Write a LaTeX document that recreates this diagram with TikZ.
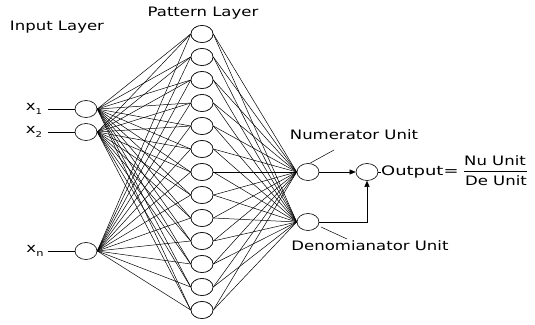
\documentclass[tikz,border=0pt]{standalone}
\usepackage{graphicx}
\usepackage{fontspec}
\setmainfont{DejaVu Sans}
\usetikzlibrary{shapes.geometric,arrows.meta}

% horizontally widened label text
\newcommand\widetxt[1]{\scalebox{1.27}[1]{#1}}

\tikzset{
  unit/.style={ellipse, draw, line width=0.6pt, minimum width=22pt, minimum height=17pt, inner sep=0pt, fill=white},
  lbl/.style={font=\fontsize{13}{15}\selectfont, inner sep=0pt},
  wire/.style={line width=0.5pt},
}

\begin{document}
\begin{tikzpicture}[x=1pt, y=-1pt]
\useasboundingbox (0,0) rectangle (535,324);

% layer titles
\node[lbl] (tin) at (57,27) {\widetxt{Input Layer}};
\node[lbl] (tpat) at (203,13) {\widetxt{Pattern Layer}};

% input units
\node[unit] (i1) at (86,109) {};
\node[unit] (i2) at (86,132) {};
\node[unit] (in) at (86,251) {};

% input signals
\coordinate (s1) at (48,109);
\coordinate (s2) at (48,132);
\coordinate (sn) at (48,251);
\node[lbl] (x1) at (34,109) {\widetxt{x\raisebox{-4pt}{\fontsize{8}{9}\selectfont 1}}};
\node[lbl] (x2) at (34,132) {\widetxt{x\raisebox{-4pt}{\fontsize{8}{9}\selectfont 2}}};
\node[lbl] (xn) at (35,251) {\widetxt{x\raisebox{-4pt}{\fontsize{9}{9}\selectfont n}}};
\draw[wire] (s1) -- (i1.west);
\draw[wire] (s2) -- (i2.west);
\draw[wire] (sn) -- (in.west);

% summation units
\node[unit] (num) at (308,172) {};
\node[unit] (den) at (308,222) {};
\node[unit] (out) at (367,172) {};

% pattern units with all their connections
\foreach \k in {0,...,12} {
  \node[unit] (p\k) at (202,{34+23*\k}) {};
  \foreach \s in {i1,i2,in} {
    \draw[wire] (\s.east) -- (p\k.west);
  }
  \draw[wire] (p\k.east) -- (num.west);
  \draw[wire] (p\k.east) -- (den.west);
}
% redraw pattern units on top of the wires
\foreach \k in {0,...,12} {
  \node[unit] at (202,{34+23*\k}) {};
}

% summation to output
\draw[wire, -{Triangle[length=6pt,width=5pt]}] (num.east) -- (out.west);
\draw[wire, -{Triangle[length=6pt,width=5pt]}] (den.east) -| (out.south);

% unit labels with leaders
\node[lbl] (lnum) at (354,135) {\widetxt{Numerator Unit}};
\coordinate (cnum) at (334,150);
\draw[wire] (num.north) ++(2,0) -- (cnum);
\node[lbl] (lden) at (370,246) {\widetxt{Denomianator Unit}};
\coordinate (cden) at (347,239);
\draw[wire] (321,227) -- (cden);

% output expression
\node[lbl, anchor=west] (otxt) at (381,172) {\scalebox{1.38}[1]{Output=}};
\draw[wire] (out.east) -- (otxt.west);
\node[lbl] (nu) at (495,161) {\widetxt{Nu Unit}};
\node[lbl] (de) at (496,181) {\widetxt{De Unit}};
\coordinate (bl) at (464,171);
\coordinate (br) at (527,171);
\draw[line width=0.7pt] (bl) -- (br);
\end{tikzpicture}
\end{document}
